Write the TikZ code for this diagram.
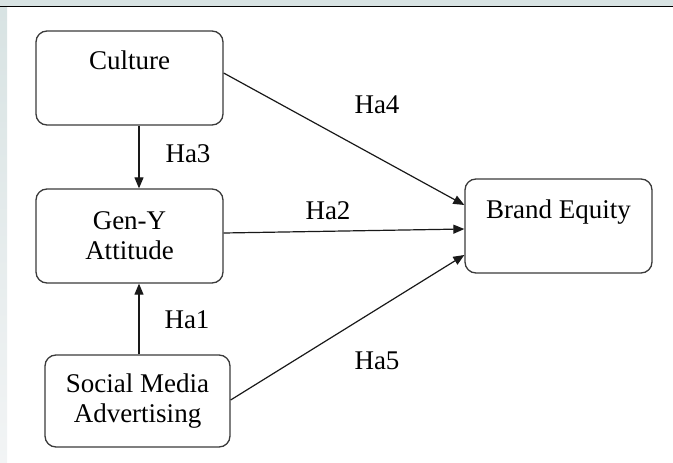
\documentclass[tikz,border=0pt]{standalone}
\usepackage{fontspec}
\setmainfont{Liberation Serif}
\usetikzlibrary{arrows.meta}
\definecolor{bandc}{HTML}{D8E3E3}
\definecolor{stripc}{HTML}{F2F4F5}
\definecolor{boxc}{HTML}{3A3A3A}
\begin{document}
\begin{tikzpicture}[x=1pt,y=1pt,
  font=\fontsize{27}{30}\selectfont,
  box/.style={draw=boxc, line width=1.3pt, rounded corners=11pt, inner sep=0pt, align=center},
  arr/.style={draw=black!90, line width=1.2pt, -{Triangle[length=11pt,width=9pt]}},
  lab/.style={anchor=base, inner sep=0pt}]
\useasboundingbox (0,0) rectangle (673,-463);
% background decorations
\fill[bandc] (0,0) rectangle (673,-5.5);
\draw[black, line width=1.6pt] (0,-6.5) -- (673,-6.5);
\shade[top color=bandc, bottom color=stripc] (0,-7.3) rectangle (7,-463);
% boxes
\node[box, minimum width=187pt, minimum height=94pt, text height=38.5pt, text depth=55.5pt] (culture) at (129.5,-78) {Culture};
\node[box, minimum width=187pt, minimum height=94pt] (geny) at (129.5,-236) {Gen-Y\\Attitude};
\node[box, minimum width=185pt, minimum height=92pt] (sma) at (137.5,-401) {Social Media\\Advertising};
\node[box, minimum width=187pt, minimum height=94pt, text height=39pt, text depth=55pt] (be) at (558.5,-226) {Brand Equity};
\coordinate (vx) at (139,0);
% connectors
\draw[arr] (culture.south -| vx) -- (geny.north -| vx);
\draw[arr] (sma.north -| vx) -- (geny.south -| vx);
\draw[arr] ([yshift=5pt]culture.east) -- ([yshift=21pt]be.west);
\draw[arr] ([yshift=3pt]geny.east) -- ([yshift=-3pt]be.west);
\draw[arr] ([yshift=1pt]sma.east) -- ([yshift=-29pt]be.west);
% labels
\node[lab] (ha3) at (188,-162) {Ha3};
\node[lab] (ha1) at (187,-328) {Ha1};
\node[lab] (ha4) at (377,-113) {Ha4};
\node[lab] (ha2) at (328,-219) {Ha2};
\node[lab] (ha5) at (377,-369) {Ha5};
\end{tikzpicture}
\end{document}
